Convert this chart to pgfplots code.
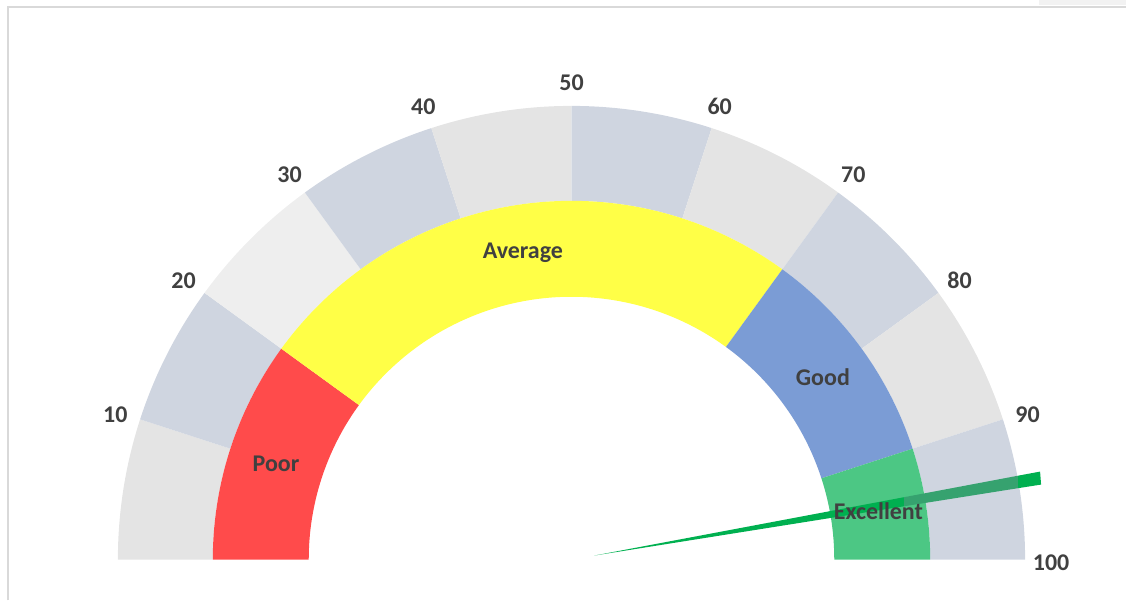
\documentclass[border=0pt]{standalone}
\usepackage{fontspec}
\setmainfont{Carlito}
\usepackage{pgfplots}
\pgfplotsset{compat=1.18}
\definecolor{ringA}{HTML}{E4E4E4}
\definecolor{ringL}{HTML}{EEEEEE}
\definecolor{ringB}{HTML}{CFD5E0}
\definecolor{poorc}{HTML}{FF4B4B}
\definecolor{avgc}{HTML}{FFFF47}
\definecolor{goodc}{HTML}{7B9CD5}
\definecolor{excc}{HTML}{4CC784}
\definecolor{needle}{HTML}{00B050}
\definecolor{needledark}{HTML}{36A26F}
\definecolor{txt}{HTML}{404040}
\definecolor{borderc}{HTML}{D9D9D9}
\pgfplotsset{gaugeaxis/.style={x=0.5pt,y=0.5pt,xmin=0,xmax=1127,ymin=0,ymax=601,
  hide axis,clip=false,scale only axis,at={(0,0)},anchor=origin}}
\begin{document}
\begin{tikzpicture}
\begin{axis}[gaugeaxis]
\addplot[draw=none,fill=black!5] coordinates {(1040,601) (1127,601) (1127,596) (1040,596)} -- cycle;
\addplot[draw=borderc,line width=1pt] coordinates {(8,0) (8,594) (1127,594)};
\coordinate (C) at (axis cs:572,41);
\coordinate (LL) at (axis cs:0,0);
\coordinate (UR) at (axis cs:1127,601);
\end{axis}
\path (LL) rectangle (UR);
% rings: from value / to value / colour
\begin{scope}[shift={(C)}]
\foreach \a/\b/\c in {0/10/ringA,10/20/ringB,20/30/ringL,30/40/ringB,40/50/ringA,
                      50/60/ringB,60/70/ringA,70/80/ringB,80/90/ringA,90/100/ringB}{
  \fill[\c] ({180-1.8*\a}:227pt) arc[start angle={180-1.8*\a},end angle={180-1.8*\b},radius=227pt]
    -- ({180-1.8*\b}:179.5pt) arc[start angle={180-1.8*\b},end angle={180-1.8*\a},radius=179.5pt] -- cycle;
}
\foreach \a/\b/\c in {0/20/poorc,20/70/avgc,70/90/goodc,90/100/excc}{
  \fill[\c] ({180-1.8*\a}:179.5pt) arc[start angle={180-1.8*\a},end angle={180-1.8*\b},radius=179.5pt]
    -- ({180-1.8*\b}:131.5pt) arc[start angle={180-1.8*\b},end angle={180-1.8*\a},radius=131.5pt] -- cycle;
}
\end{scope}
\begin{axis}[gaugeaxis]
\addplot[draw=none,fill=needle] coordinates {(595,45) (905,103.4) (905,94.3)} -- cycle;
\addplot[draw=none,fill=needledark] coordinates {(905,103.4) (1019,124.9) (1019,112.4) (905,94.3)} -- cycle;
\addplot[draw=none,fill=needle] coordinates {(1019,124.9) (1041,129) (1042,116) (1019,112.4)} -- cycle;
\end{axis}
\begin{scope}[shift={(C)},every node/.style={text=txt,font=\bfseries\fontsize{12}{14}\selectfont}]
\foreach \v in {10,20,...,100}{
  \node at ([yshift=-1.5pt]{180-1.8*\v}:240pt) {\v};
}
\node at ({180-1.8*10}:155.5pt) {Poor};
\node at ({180-1.8*45}:155.5pt) {Average};
\node at ({180-1.8*80}:155.5pt) {Good};
\node at ({180-1.8*95}:155.5pt) {Excellent};
\end{scope}
\end{tikzpicture}
\end{document}
